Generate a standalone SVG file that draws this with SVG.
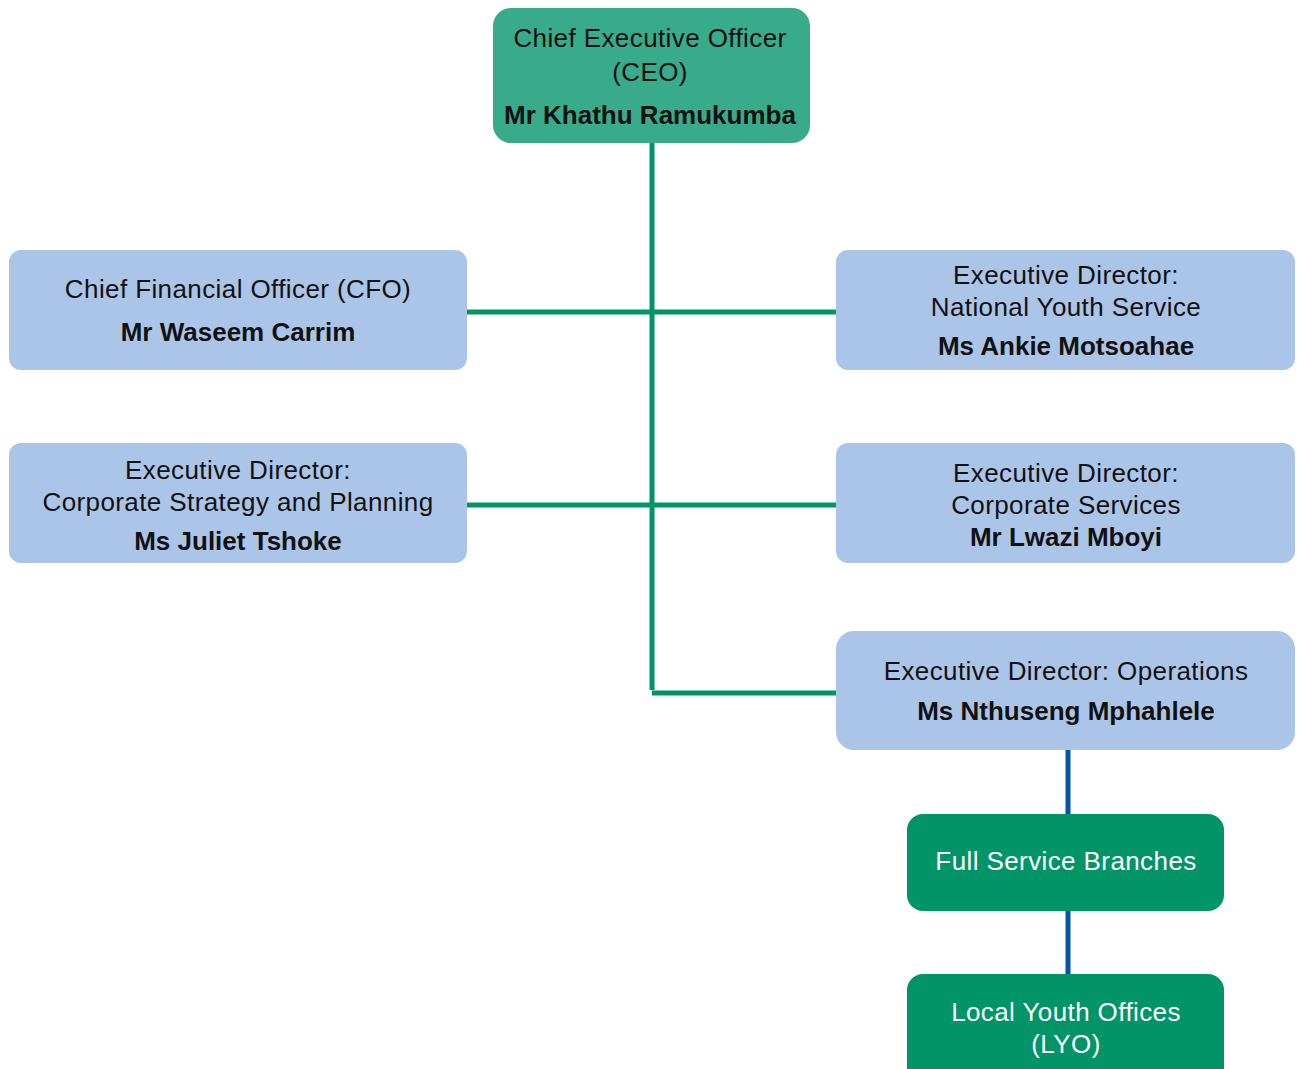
<svg xmlns="http://www.w3.org/2000/svg" width="1300" height="1069" viewBox="0 0 1300 1069">
<style>
text{font-family:"Liberation Sans",Arial,Helvetica,sans-serif;font-size:26px;letter-spacing:0.4px;text-anchor:middle;fill:#111}
.b{font-weight:bold;letter-spacing:0}
.w{fill:#fff}
.blue{fill:#abc5e8}
.ceo{fill:#38ab8a}
.grn{fill:#009466}
.gl{stroke:#009466;stroke-width:5;fill:none}
.bl{stroke:#0055a4;stroke-width:5;fill:none}
</style>
<g id="connectors">
<line class="gl" x1="652" y1="143" x2="652" y2="690"/>
<line class="gl" x1="467" y1="312" x2="836" y2="312"/>
<line class="gl" x1="467" y1="505" x2="836" y2="505"/>
<line class="gl" x1="652" y1="693" x2="836" y2="693"/>
<line class="bl" x1="1068" y1="750" x2="1068" y2="814"/>
<line class="bl" x1="1068" y1="911" x2="1068" y2="974"/>
</g>
<g id="ceo">
<rect class="ceo" x="493" y="8" width="317" height="135" rx="18"/>
<text x="650" y="47">Chief Executive Officer</text>
<text x="650" y="81">(CEO)</text>
<text class="b" x="650" y="124">Mr Khathu Ramukumba</text>
</g>
<g id="cfo">
<rect class="blue" x="9" y="250" width="458" height="120" rx="12"/>
<text x="238" y="298">Chief Financial Officer (CFO)</text>
<text class="b" x="238" y="341">Mr Waseem Carrim</text>
</g>
<g id="nys">
<rect class="blue" x="836" y="250" width="459" height="120" rx="12"/>
<text x="1066" y="284">Executive Director:</text>
<text x="1066" y="316">National Youth Service</text>
<text class="b" x="1066" y="355">Ms Ankie Motsoahae</text>
</g>
<g id="csp">
<rect class="blue" x="9" y="443" width="458" height="120" rx="12"/>
<text x="238" y="479">Executive Director:</text>
<text x="238" y="511">Corporate Strategy and Planning</text>
<text class="b" x="238" y="550">Ms Juliet Tshoke</text>
</g>
<g id="cs">
<rect class="blue" x="836" y="443" width="459" height="120" rx="12"/>
<text x="1066" y="482">Executive Director:</text>
<text x="1066" y="514">Corporate Services</text>
<text class="b" x="1066" y="546">Mr Lwazi Mboyi</text>
</g>
<g id="ops">
<rect class="blue" x="836" y="631" width="459" height="119" rx="18"/>
<text x="1066" y="680">Executive Director: Operations</text>
<text class="b" x="1066" y="720">Ms Nthuseng Mphahlele</text>
</g>
<g id="fsb">
<rect class="grn" x="907" y="814" width="317" height="97" rx="16"/>
<text class="w" x="1066" y="870">Full Service Branches</text>
</g>
<g id="lyo">
<rect class="grn" x="907" y="974" width="317" height="110" rx="16"/>
<text class="w" x="1066" y="1021">Local Youth Offices</text>
<text class="w" x="1066" y="1053">(LYO)</text>
</g>
</svg>
